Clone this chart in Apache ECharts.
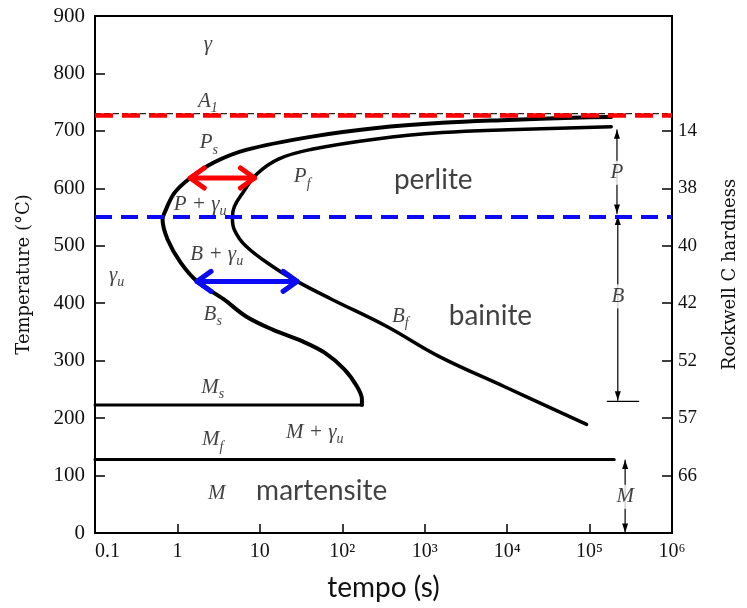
<!DOCTYPE html>
<html>
<head>
<meta charset="utf-8">
<script src="https://cdn.jsdelivr.net/npm/echarts@6/dist/echarts.min.js"></script>
<style>
  html, body { margin: 0; padding: 0; background: #fff; }
  #chart { width: 747px; height: 608px; }
</style>
</head>
<body>
<div id="chart"></div>
<script>
// Time axis (log scale) ticks and their labels
const timeTickValues = [0.1, 1, 10, 100, 1e3, 1e4, 1e5, 1e6];
const timeTickLabels = ['0.1', '1', '10', '10²', '10³', '10⁴', '10⁵', '10⁶'];

// Temperature axis ticks
const tempTickValues = [0, 100, 200, 300, 400, 500, 600, 700, 800, 900];

// Hardness read-out on the right axis, keyed by isothermal temperature
const hardnessTemps = [100, 200, 300, 400, 500, 600, 700];
const hardnessLabels = ['66', '57', '52', '42', '40', '38', '14'];

// Transformation start curve (Ps / Bs): [time s, temperature °C]
const startCurve = [
  [1.83e5, 724], [6.28e4, 723], [1.03e4, 719], [1637, 714], [261, 705],
  [42.7, 690], [6.81, 667], [2.76, 645], [1.43, 618], [0.92, 592],
  [0.70, 558], [0.66, 546], [0.76, 511], [1.09, 471], [1.73, 438],
  [3.63, 407], [6.81, 377], [14.3, 354], [32.5, 334], [61, 314],
  [106, 285], [151, 255], [173, 233], [173, 223]
];

// Transformation finish curve (Pf / Bf)
const finishCurve = [
  [1.83e5, 707], [1.03e4, 702], [1637, 697], [261, 686], [42.7, 668],
  [16.8, 651], [9.2, 625], [6.27, 593], [4.9, 568], [4.64, 549],
  [4.9, 528], [6.81, 499], [14.3, 464], [28.3, 438], [74, 407],
  [343, 360], [1510, 307], [9200, 255], [9.2e4, 189]
];

// Martensite start / finish isotherms
const msLine = [[0.1, 223], [173, 223]];
const mfLine = [[0.1, 128], [1.99e5, 128]];

// Eutectoid temperature and nose temperature
const a1Temp = 727;
const noseTemp = 550;

// Incubation-gap arrows: [t1, T, t2, T]
const redArrow = [[1.43, 618, 8.6, 618]];
const blueArrow = [[1.73, 438, 28.3, 438]];

// Product-range arrows on the right: [t1, T1, t2, T2]
const rangeArrows = [
  [2.15e5, 556, 2.15e5, 702],
  [2.2e5, 552, 2.2e5, 231],
  [2.7e5, 127, 2.7e5, 1]
];
const bainiteBase = [[1.64e5, 229], [3.94e5, 229]];

// Region and curve labels: [time, temperature, rich text]
const curveLabels = [
  [2.34, 851, '{i|γ}'],
  [2.34, 752, '{i|A}{s|1}'],
  [2.4, 679, '{i|P}{s|s}'],
  [32.6, 620, '{i|P}{s|f}'],
  [1.88, 572, '{i|P + γ}{s|u}'],
  [3.0, 485, '{i|B + γ}{s|u}'],
  [0.183, 448, '{i|γ}{s|u}'],
  [2.68, 380, '{i|B}{s|s}'],
  [505, 377, '{i|B}{s|f}'],
  [2.68, 254, '{i|M}{s|s}'],
  [2.68, 162, '{i|M}{s|f}'],
  [46.4, 175, '{i|M + γ}{s|u}'],
  [3.0, 68, '{i|M}']
];
const rangeLabels = [
  [2.15e5, 627, 'P'],
  [2.2e5, 412, 'B'],
  [2.7e5, 63, 'M']
];
const phaseNames = [
  [1270, 615, 'perlite'],
  [6270, 377, 'bainite'],
  [56.2, 73, 'martensite']
];

const tickFont = 'Liberation Serif';

const serifItalic = {
  i: { fontFamily: tickFont, fontStyle: 'italic', fontSize: 21, lineHeight: 28, color: '#111' },
  s: { fontFamily: tickFont, fontStyle: 'italic', fontSize: 14, lineHeight: 16, verticalAlign: 'bottom', color: '#111' }
};
const tickRich = {
  t: { fontFamily: tickFont, fontSize: 20, color: '#111' }
};

function arrowRenderer(opt) {
  return function (params, api) {
    const a = api.coord([api.value(0), api.value(1)]);
    const b = api.coord([api.value(2), api.value(3)]);
    const dx = b[0] - a[0], dy = b[1] - a[1];
    const len = Math.hypot(dx, dy) || 1;
    const ux = dx / len, uy = dy / len, nx = -uy, ny = ux;
    const head = (tip, sx, sy) => {
      const bx = tip[0] - sx * opt.headLen, by = tip[1] - sy * opt.headLen;
      return [[bx + nx * opt.headWidth, by + ny * opt.headWidth], [tip[0], tip[1]],
              [bx - nx * opt.headWidth, by - ny * opt.headWidth]];
    };
    const children = [{
      type: 'line',
      shape: { x1: a[0], y1: a[1], x2: b[0], y2: b[1] },
      style: { stroke: opt.color, lineWidth: opt.width, lineCap: 'round' }
    }];
    [head(a, -ux, -uy), head(b, ux, uy)].forEach(pts => {
      if (opt.filled) {
        children.push({ type: 'polygon', shape: { points: pts }, style: { fill: opt.color } });
      } else {
        children.push({
          type: 'polyline', shape: { points: pts },
          style: { stroke: opt.color, lineWidth: opt.width, lineCap: 'round', lineJoin: 'round', fill: null }
        });
      }
    });
    return { type: 'group', children: children };
  };
}

function arrowSeries(data, opt) {
  return {
    type: 'custom',
    coordinateSystem: 'cartesian2d',
    renderItem: arrowRenderer(opt),
    encode: { x: [0, 2], y: [1, 3] },
    data: data,
    clip: false,
    silent: true,
    z: opt.z || 5
  };
}

function curveSeries(data, width, smooth) {
  return {
    type: 'line', data: data, showSymbol: false, smooth: smooth,
    lineStyle: { color: '#000', width: width, cap: 'round', join: 'round' },
    silent: true, z: 3
  };
}

function dashedLevel(temp, color, width, dash, z) {
  return {
    type: 'line', data: [[0.1, temp], [1e6, temp]], showSymbol: false,
    lineStyle: { color: color, width: width, type: dash },
    silent: true, z: z
  };
}

const chart = echarts.init(document.getElementById('chart'), null, { renderer: 'canvas' });

chart.setOption({
  animation: false,
  backgroundColor: '#fff',
  textStyle: { fontFamily: tickFont, color: '#111' },
  grid: {
    left: 95, right: 63, top: 16, bottom: 75,
    show: true, borderColor: '#000', borderWidth: 2, backgroundColor: 'transparent'
  },
  xAxis: {
    type: 'log', logBase: 10, min: 0.1, max: 1e6,
    name: 'tempo (s)', nameLocation: 'middle', nameGap: 41,
    nameTextStyle: { fontFamily: 'Lato', fontSize: 28, color: '#111' },
    axisLine: { lineStyle: { color: '#000', width: 2 } },
    axisTick: { inside: true, length: 9, lineStyle: { color: '#000', width: 1.5 }, customValues: timeTickValues },
    axisLabel: {
      customValues: timeTickValues,
      margin: 9, fontFamily: tickFont, fontSize: 20, color: '#111',
      alignMinLabel: 'left',
      formatter: v => '{t|' + timeTickLabels[Math.round(Math.log10(v)) + 1] + '}',
      rich: tickRich
    },
    splitLine: { show: false },
    minorTick: { show: false }
  },
  yAxis: [
    {
      type: 'value', min: 0, max: 900, interval: 100,
      name: 'Temperature (°C)', nameLocation: 'middle', nameGap: 62, nameRotate: 90,
      nameTextStyle: { fontFamily: 'DejaVu Serif', fontSize: 18, color: '#111' },
      axisLine: { show: true, lineStyle: { color: '#000', width: 2 } },
      axisTick: { show: true, inside: true, length: 10, lineStyle: { color: '#000', width: 1.5 } },
      axisLabel: {
        customValues: tempTickValues,
        margin: 10, fontFamily: tickFont, fontSize: 21, color: '#111',
        formatter: v => '{t|' + String(Math.round(v)) + '}',
        rich: { t: { fontFamily: tickFont, fontSize: 21, color: '#111' } }
      },
      splitLine: { show: false }
    },
    {
      type: 'value', min: 0, max: 900, interval: 100, position: 'right',
      name: 'Rockwell C hardness', nameLocation: 'middle', nameGap: 49, nameRotate: 90,
      nameTextStyle: { fontFamily: 'DejaVu Serif', fontSize: 18, color: '#111' },
      axisLine: { show: true, lineStyle: { color: '#000', width: 2 } },
      axisTick: { show: true, inside: true, length: 10, lineStyle: { color: '#000', width: 1.5 }, customValues: hardnessTemps },
      axisLabel: {
        customValues: hardnessTemps,
        margin: 6, fontFamily: tickFont, fontSize: 19, color: '#111',
        formatter: v => hardnessLabels[hardnessTemps.indexOf(Math.round(v))]
      },
      splitLine: { show: false }
    }
  ],
  series: [
    curveSeries(startCurve, 4, 0.35),
    curveSeries(finishCurve, 3.5, 0.4),
    curveSeries(msLine, 3, false),
    curveSeries(mfLine, 3, false),
    dashedLevel(a1Temp + 3, '#222', 1.2, [6, 3], 4),
    dashedLevel(a1Temp, '#ff0000', 4.5, [18, 9], 6),
    dashedLevel(noseTemp, '#0a0af5', 4, [17, 9], 6),
    arrowSeries(redArrow, { color: '#ff0000', width: 5, headLen: 14, headWidth: 10, z: 7 }),
    arrowSeries(blueArrow, { color: '#0a0af5', width: 5, headLen: 14, headWidth: 10, z: 7 }),
    arrowSeries(rangeArrows, { color: '#000', width: 1.2, headLen: 9, headWidth: 3, filled: true, z: 5 }),
    curveSeries(bainiteBase, 1.2, false),
    {
      type: 'scatter', symbolSize: 0, silent: true, z: 8,
      data: curveLabels.map(d => ({ value: [d[0], d[1]], text: d[2] })),
      label: {
        show: true, position: 'inside',
        formatter: p => p.data.text,
        rich: serifItalic
      }
    },
    {
      type: 'scatter', symbolSize: 0, silent: true, z: 8,
      data: rangeLabels.map(d => ({ value: [d[0], d[1]], text: d[2] })),
      label: {
        show: true, position: 'inside',
        formatter: p => '{i|' + p.data.text + '}',
        backgroundColor: '#fff', padding: [1, 1],
        rich: { i: { fontFamily: tickFont, fontStyle: 'italic', fontSize: 21, lineHeight: 22, color: '#111' } }
      }
    },
    {
      type: 'scatter', symbolSize: 0, silent: true, z: 8,
      data: phaseNames.map(d => ({ value: [d[0], d[1]], text: d[2] })),
      label: {
        show: true, position: 'inside',
        formatter: p => p.data.text,
        fontFamily: 'Lato', fontSize: 28, color: '#111'
      }
    }
  ]
});
</script>
</body>
</html>
